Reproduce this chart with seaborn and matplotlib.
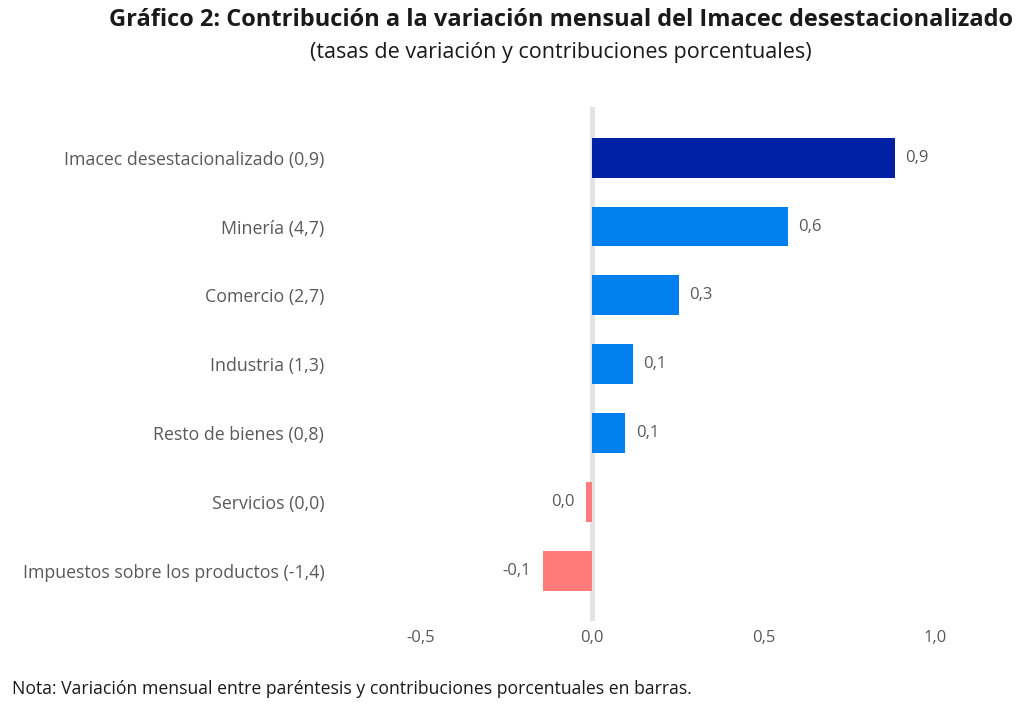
import pandas as pd
import seaborn as sns
import matplotlib.pyplot as plt

categorias = ["Imacec desestacionalizado (0,9)", "Minería (4,7)", "Comercio (2,7)",
              "Industria (1,3)", "Resto de bienes (0,8)", "Servicios (0,0)",
              "Impuestos sobre los productos (-1,4)"]
contribuciones = [0.883, 0.571, 0.252, 0.118, 0.097, -0.017, -0.143]
grupo = ["total", "pos", "pos", "pos", "pos", "neg", "neg"]
etiquetas = ["0,9", "0,6", "0,3", "0,1", "0,1", "0,0", "-0,1"]
xticks = [-0.5, 0.0, 0.5, 1.0]
xticklabels = ["-0,5", "0,0", "0,5", "1,0"]

colores = {"total": "#0020A6", "pos": "#007FEE", "neg": "#FF7B7B"}
gris = "#595959"

df = pd.DataFrame({"cat": categorias, "val": contribuciones, "grupo": grupo})

sns.set_style("white")
plt.rcParams["font.family"] = ["Open Sans", "DejaVu Sans"]

fig = plt.figure(figsize=(10.24, 7.06), dpi=100)
ax = fig.add_axes([0.394, 0.120, 0.536, 0.728])

ax.axvline(0, color="#E3E3E3", lw=3.5, zorder=0)
sns.barplot(data=df, x="val", y="cat", hue="grupo", palette=colores,
            dodge=False, width=0.58, legend=False, saturation=1,
            linewidth=0, ax=ax, zorder=2)

for i, (v, t) in enumerate(zip(contribuciones, etiquetas)):
    if v >= 0:
        ax.text(v + 0.03, i, t, va="center", ha="left", fontsize=12, color=gris)
    else:
        ax.text(v - 0.035, i, t, va="center", ha="right", fontsize=12, color=gris)

ax.set_xlim(-0.55, 1.05)
ax.set_ylim(6.73, -0.73)
ax.set_xticks(xticks)
ax.set_xticklabels(xticklabels, fontsize=12, color=gris)
ax.tick_params(axis="y", labelsize=12.8, labelcolor=gris, length=0, pad=57)
ax.tick_params(axis="x", length=0, pad=6)
ax.set_xlabel("")
ax.set_ylabel("")
sns.despine(ax=ax, left=True, bottom=True)

fig.text(0.548, 0.972, "Gráfico 2: Contribución a la variación mensual del Imacec desestacionalizado",
         ha="center", va="center", fontsize=17, fontweight="bold", color="#1a1a1a")
fig.text(0.548, 0.926, "(tasas de variación y contribuciones porcentuales)",
         ha="center", va="center", fontsize=15.5, color="#1a1a1a")
fig.text(0.012, 0.024, "Nota: Variación mensual entre paréntesis y contribuciones porcentuales en barras.",
         ha="left", va="center", fontsize=12.7, color="#1a1a1a")

fig.savefig("out.png", dpi=100)
